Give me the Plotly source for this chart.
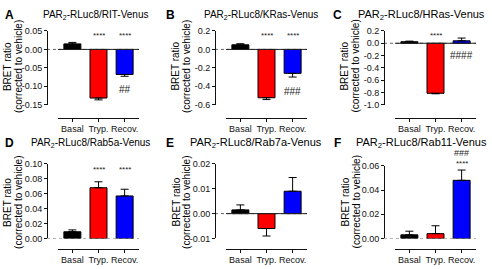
import plotly.graph_objects as go

W, H = 492, 269

categories = ["Basal", "Tryp.", "Recov."]
colors = ["#000000", "#FF0000", "#0000FF"]

letters = ["A", "B", "C", "D", "E", "F"]
titles = [
    "PAR<sub>2</sub>-RLuc8/RIT-Venus",
    "PAR<sub>2</sub>-RLuc8/KRas-Venus",
    "PAR<sub>2</sub>-RLuc8/HRas-Venus",
    "PAR<sub>2</sub>-RLuc8/Rab5a-Venus",
    "PAR<sub>2</sub>-RLuc8/Rab7a-Venus",
    "PAR<sub>2</sub>-RLuc8/Rab11-Venus",
]

# mean values (Basal, Tryp., Recov.)
vals_A = [0.015, -0.132, -0.068]
vals_B = [0.050, -0.525, -0.260]
vals_C = [0.025, -0.815, 0.040]
vals_D = [0.009, 0.068, 0.057]
vals_E = [0.0015, -0.006, 0.009]
vals_F = [0.003, 0.004, 0.048]

# SEM
err_A = [0.004, 0.005, 0.005]
err_B = [0.012, 0.020, 0.040]
err_C = [0.010, 0.008, 0.045]
err_D = [0.0025, 0.008, 0.009]
err_E = [0.002, 0.003, 0.0055]
err_F = [0.003, 0.0065, 0.0085]

# y-axis ticks
yt_A = [0.05, 0.0, -0.05, -0.10, -0.15]
yl_A = ["0.05", "0.00", "-0.05", "-0.10", "-0.15"]
yt_B = [0.2, 0.0, -0.2, -0.4, -0.6]
yl_B = ["0.2", "0.0", "-0.2", "-0.4", "-0.6"]
yt_C = [0.2, 0.0, -0.2, -0.4, -0.6, -0.8, -1.0]
yl_C = ["0.2", "0.0", "-0.2", "-0.4", "-0.6", "-0.8", "-1.0"]
yt_D = [0.10, 0.08, 0.06, 0.04, 0.02, 0.00]
yl_D = ["0.10", "0.08", "0.06", "0.04", "0.02", "0.00"]
yt_E = [0.02, 0.01, 0.00, -0.01]
yl_E = ["0.02", "0.01", "0.00", "-0.01"]
yt_F = [0.06, 0.04, 0.02, 0.00]
yl_F = ["0.06", "0.04", "0.02", "0.00"]

# significance marks: (category index, text)
stars_A = [(1, "****"), (2, "****")]
hash_A = [(2, "##")]
stars_B = [(1, "****"), (2, "****")]
hash_B = [(2, "###")]
stars_C = [(1, "****")]
hash_C = [(2, "####")]
stars_D = [(1, "****"), (2, "****")]
hash_D = []
stars_E = []
hash_E = []
stars_F = [(2, "****")]
hash_F = [(2, "###")]

panels = [
    dict(v=vals_A, e=err_A, tv=yt_A, tl=yl_A, st=stars_A, hs=hash_A, solid=True),
    dict(v=vals_B, e=err_B, tv=yt_B, tl=yl_B, st=stars_B, hs=hash_B, solid=True),
    dict(v=vals_C, e=err_C, tv=yt_C, tl=yl_C, st=stars_C, hs=hash_C, solid=True),
    dict(v=vals_D, e=err_D, tv=yt_D, tl=yl_D, st=stars_D, hs=hash_D, solid=False),
    dict(v=vals_E, e=err_E, tv=yt_E, tl=yl_E, st=stars_E, hs=hash_E, solid=True),
    dict(v=vals_F, e=err_F, tv=yt_F, tl=yl_F, st=stars_F, hs=hash_F, solid=False),
]

# layout geometry (pixels)
cols = [dict(yx=47, xl=58, xr=139, lx=9, ytx=(7.5, 18.5)),
        dict(yx=215, xl=226, xr=307, lx=170, ytx=(176, 186.5)),
        dict(yx=384, xl=395, xr=476, lx=337, ytx=(345, 356))]
rows = [dict(yb=103.5, xline=117, ty=10, ymid=64),
        dict(yb=242.5, xline=253, ty=143, ymid=205)]

# per-panel: axis top (px), title centre x, title size, star y, hash y
top_py = [27, 27, 27, 165, 165, 167]
title_cx = [95, 261, 421, 90, 256, 421]
title_sz = [10, 10, 11, 10, 11, 11]
star_py = [31.5, 31.5, 31.5, 170.5, None, 164.5]
hash_py = [88, 90, 52, None, None, 154]
hash_sz = [10, 10, 10, 10, 10, 9]

def px(x):
    return x / W

def py(y):
    return 1 - y / H

fig = go.Figure()
font = "Liberation Sans, Arial, sans-serif"
annotations = []
shapes = []

def ann(text, x, y, xref="paper", size=10, angle=0, color="black"):
    return dict(text=text, x=x, y=y, xref=xref, yref="paper", showarrow=False,
                xanchor="center", yanchor="middle", textangle=angle,
                font=dict(family=font, size=size, color=color))

for k, p in enumerate(panels):
    c = cols[k % 3]
    r = rows[k // 3]
    n = k + 1
    xa = "x" if n == 1 else f"x{n}"
    ya = "y" if n == 1 else f"y{n}"
    lo, hi = min(p["tv"]), max(p["tv"])
    plus = [e if v >= 0 else 0 for v, e in zip(p["v"], p["e"])]
    minus = [e if v < 0 else 0 for v, e in zip(p["v"], p["e"])]
    fig.add_trace(go.Bar(
        x=[0, 1, 2], y=p["v"], xaxis=xa, yaxis=ya, width=0.65,
        marker=dict(color=colors, line=dict(color="black", width=1)),
        error_y=dict(type="data", symmetric=False, array=plus, arrayminus=minus,
                     color="black", thickness=1, width=4),
        hoverinfo="skip"))
    axx = dict(domain=[px(c["xl"]), px(c["xr"])], range=[-0.55, 2.55],
               anchor="free", position=py(r["xline"]),
               showline=True, linecolor="#111", linewidth=1,
               ticks="outside", ticklen=3, tickcolor="#111", tickwidth=1,
               tickvals=[0, 1, 2], ticktext=categories,
               tickfont=dict(family=font, size=9, color="#111"),
               showgrid=False, zeroline=False, fixedrange=True)
    axy = dict(domain=[py(r["yb"]), py(top_py[k])], range=[lo, hi],
               anchor="free", position=px(c["yx"]),
               showline=True, linecolor="#111", linewidth=1,
               ticks="outside", ticklen=3, tickcolor="#111", tickwidth=1,
               tickvals=p["tv"], ticktext=p["tl"],
               tickfont=dict(family=font, size=9, color="#111"),
               showgrid=False, zeroline=False, fixedrange=True)
    fig.update_layout(**{("xaxis" if n == 1 else f"xaxis{n}"): axx,
                         ("yaxis" if n == 1 else f"yaxis{n}"): axy})
    # zero lines
    shapes.append(dict(type="line", xref="paper", yref=ya,
                       x0=px(c["yx"]), x1=px(c["xr"]), y0=0, y1=0,
                       line=dict(color="#666", width=1, dash="dot"), layer="below"))
    if p["solid"]:
        shapes.append(dict(type="line", xref="paper", yref=ya,
                           x0=px(c["xl"]), x1=px(c["xr"]), y0=0, y1=0,
                           line=dict(color="#222", width=1)))
    annotations.append(ann("<b>%s</b>" % letters[k], px(c["lx"]), py(r["ty"]), size=12))
    annotations.append(ann(titles[k], px(title_cx[k]), py(r["ty"]), size=title_sz[k]))
    annotations.append(ann("BRET ratio", px(c["ytx"][0]), py(r["ymid"]), angle=-90))
    annotations.append(ann("(corrected to vehicle)", px(c["ytx"][1]), py(r["ymid"]), angle=-90))
    for ci, t in p["st"]:
        annotations.append(ann(t, ci, py(star_py[k]), xref=xa, size=8, color="#222"))
    for ci, t in p["hs"]:
        annotations.append(ann(t, ci, py(hash_py[k]), xref=xa, size=hash_sz[k], color="#222"))

fig.update_layout(width=W, height=H, margin=dict(l=0, r=0, t=0, b=0),
                  paper_bgcolor="white", plot_bgcolor="white", showlegend=False,
                  annotations=annotations, shapes=shapes, bargap=0.35)

fig.write_html("out.html", config={"displayModeBar": False},
               post_script="document.body.style.margin='0';")
